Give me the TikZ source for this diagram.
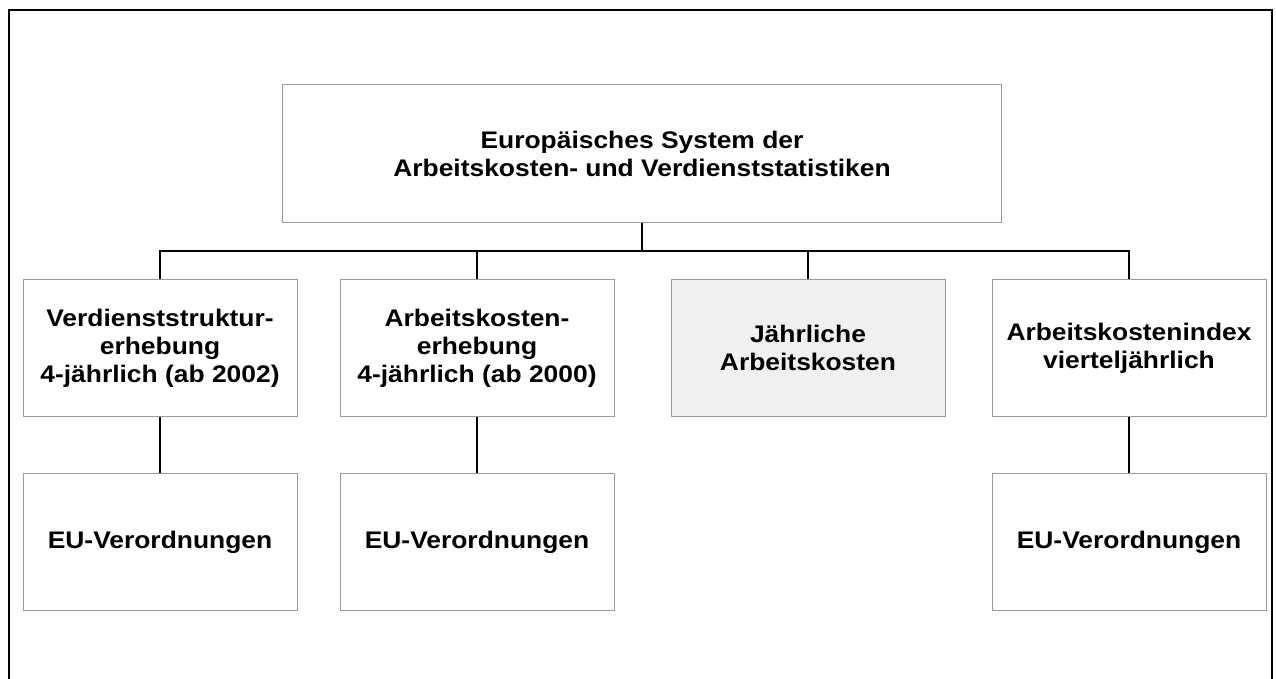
\documentclass[tikz,border=0pt]{standalone}
\usepackage{fontspec}
\setmainfont{Liberation Sans}[FakeStretch=1.1]
\begin{document}
\begin{tikzpicture}[x=1pt,y=-1pt,
box/.style={draw=black!40,line width=1pt,minimum width=274pt,minimum height=137pt,
  inner sep=0pt,align=center,font=\bfseries\fontsize{24}{28}\selectfont},
wire/.style={line width=2pt}]
\useasboundingbox (0,0) rectangle (1276,679);
\draw[line width=2pt] (9,679) -- (9,10) -- (1272,10) -- (1272,679);

\node[box,minimum width=719pt] (esys) at (642,153.5) {Europäisches System der\\Arbeitskosten- und Verdienststatistiken};

\node[box] (vse) at (160,348) {Verdienststruktur-\\erhebung\\4-jährlich (ab 2002)};
\node[box] (ake) at (477,348) {Arbeitskosten-\\erhebung\\4-jährlich (ab 2000)};
\node[box,fill=black!6] (jak) at (808,348) {Jährliche\\Arbeitskosten};
\node[box] (aki) at (1129,348) {Arbeitskostenindex\\vierteljährlich};

\node[box] (vo1) at (160,542) {EU-Verordnungen};
\node[box] (vo2) at (477,542) {EU-Verordnungen};
\node[box] (vo3) at (1129,542) {EU-Verordnungen};

%\draw (642,251) node{bus};
\coordinate (bus) at (642,251);
\draw[wire] (esys.south) -- (bus);
\draw[wire] (vse.north) |- (bus) -| (aki.north);
\foreach \n in {ake,jak}
\draw[wire] (\n.north) -- (\n.north |- bus);

\foreach \a/\b in {vse/vo1,ake/vo2,aki/vo3}
\draw[wire] (\a.south) -- (\b.north);
\end{tikzpicture}
\end{document}
